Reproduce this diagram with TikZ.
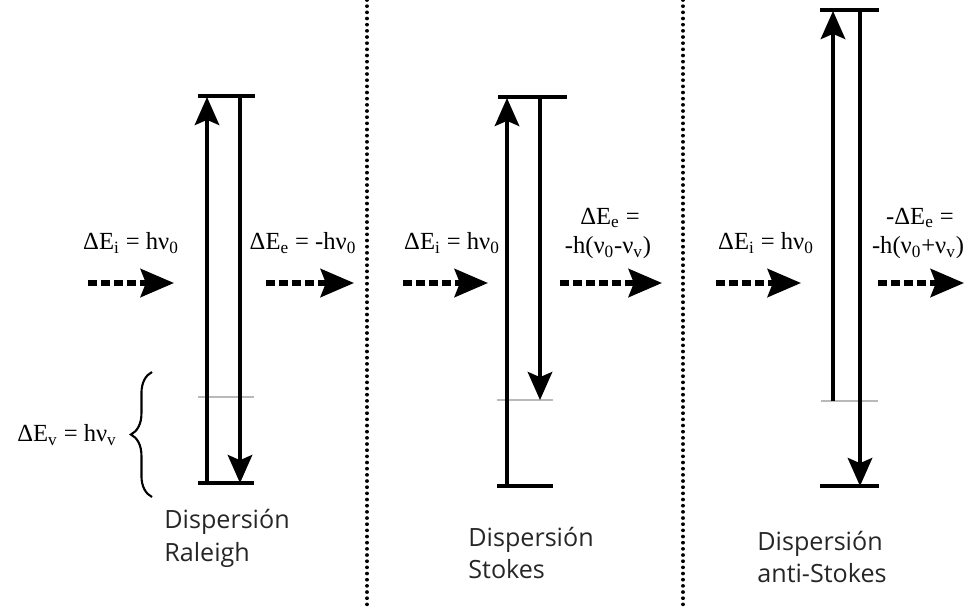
\documentclass[tikz,border=0pt]{standalone}
\usepackage{fontspec}
\setmainfont{Liberation Serif}
\newfontfamily\capfont{Open Sans}
\usetikzlibrary{arrows.meta,decorations.pathreplacing}

\tikzset{
  level/.style={line width=1.8pt},
  virtual/.style={gray!55,line width=0.7pt},
  trans/.style={line width=1.8pt,-{Stealth[length=16pt,width=14pt,inset=3pt]}},
  photon/.style={line width=3pt,dash pattern=on 5pt off 2.4pt,
    -{Stealth[length=19pt,width=16pt,inset=3pt]}},
  energy/.style={font=\fontsize{14}{16}\selectfont,inner sep=0pt},
  caption/.style={font=\capfont\fontsize{14.3}{18.7}\selectfont,align=left,
    anchor=west,inner sep=0pt,text=black!85},
  separator/.style={line width=2.1pt,dash pattern=on 0.01pt off 3.5pt,line cap=round}
}

\begin{document}
\begin{tikzpicture}[x=0.02cm,y=-0.02cm]
  \useasboundingbox (0,0) rectangle (974,610);

  % separators
  \coordinate (d1a) at (367,0);   \coordinate (d1b) at (367,610);
  \coordinate (d2a) at (683,0);   \coordinate (d2b) at (683,610);
  \draw[separator] (d1a) -- (d1b);
  \draw[separator] (d2a) -- (d2b);

  % energy levels: left end, right end
  \coordinate (rTa) at (198,96);  \coordinate (rTb) at (255,96);
  \coordinate (rVa) at (198,397); \coordinate (rVb) at (254,397);
  \coordinate (rBa) at (198,483); \coordinate (rBb) at (254,483);
  \coordinate (sTa) at (498,97);  \coordinate (sTb) at (567,97);
  \coordinate (sVa) at (497,400); \coordinate (sVb) at (553,400);
  \coordinate (sBa) at (497,486); \coordinate (sBb) at (553,486);
  \coordinate (aTa) at (820,10);  \coordinate (aTb) at (879,10);
  \coordinate (aVa) at (821,401); \coordinate (aVb) at (878,401);
  \coordinate (aBa) at (820,486); \coordinate (aBb) at (879,486);

  \foreach \n in {rT,rB,sT,sB,aT,aB}
    \draw[level] (\n a) -- (\n b);
  \foreach \n in {rV,sV,aV}
    \draw[virtual] (\n a) -- (\n b);

  % transitions
  \coordinate (r1) at (207,483); \coordinate (r2) at (207,97);
  \coordinate (r3) at (240,97);  \coordinate (r4) at (240,483);
  \coordinate (s1) at (507,486); \coordinate (s2) at (507,98);
  \coordinate (s3) at (540,97);  \coordinate (s4) at (540,400);
  \coordinate (a1) at (833,401); \coordinate (a2) at (833,11);
  \coordinate (a3) at (860,10);  \coordinate (a4) at (860,486);
  \draw[trans] (r1) -- (r2);
  \draw[trans] (r3) -- (r4);
  \draw[trans] (s1) -- (s2);
  \draw[trans] (s3) -- (s4);
  \draw[trans] (a1) -- (a2);
  \draw[trans] (a3) -- (a4);

  % photons
  \coordinate (pr1) at (88,283);  \coordinate (pr2) at (174,283);
  \coordinate (pr3) at (266,283); \coordinate (pr4) at (354,283);
  \coordinate (ps1) at (403,283); \coordinate (ps2) at (488,283);
  \coordinate (ps3) at (560,283); \coordinate (ps4) at (662,283);
  \coordinate (pa1) at (716,283); \coordinate (pa2) at (801,283);
  \coordinate (pa3) at (878,283); \coordinate (pa4) at (964,283);
  \draw[photon] (pr1) -- (pr2);
  \draw[photon] (pr3) -- (pr4);
  \draw[photon] (ps1) -- (ps2);
  \draw[photon] (ps3) -- (ps4);
  \draw[photon] (pa1) -- (pa2);
  \draw[photon] (pa3) -- (pa4);

  % energy labels
  \node[energy] (ri) at (131,243) {ΔE\textsubscript{i} = hν\textsubscript{0}};
  \node[energy] (re) at (303,243) {ΔE\textsubscript{e} = -hν\textsubscript{0}};
  \node[energy] (si) at (452,243) {ΔE\textsubscript{i} = hν\textsubscript{0}};
  \node[energy] (se1) at (610,218) {ΔE\textsubscript{e} =};
  \node[energy] (se2) at (608,248) {-h(ν\textsubscript{0}-ν\textsubscript{v})};
  \node[energy] (ai) at (766,243) {ΔE\textsubscript{i} = hν\textsubscript{0}};
  \node[energy] (ae1) at (920,218) {-ΔE\textsubscript{e} =};
  \node[energy] (ae2) at (918,248) {-h(ν\textsubscript{0}+ν\textsubscript{v})};
  \node[energy] (rv) at (67,435) {ΔE\textsubscript{v} = hν\textsubscript{v}};

  % vibrational gap
  \coordinate (b1) at (152,497); \coordinate (b2) at (152,372);
  \draw[line width=1.2pt,decorate,decoration={brace,amplitude=12pt}] (b1) -- (b2);

  % captions
  \node[caption] (cr) at (164,538) {Dispersión\\Raleigh};
  \node[caption] (cs) at (468,553) {Dispersión\\Stokes};
  \node[caption] (ca) at (757,557) {Dispersión\\anti-Stokes};
\end{tikzpicture}
\end{document}
